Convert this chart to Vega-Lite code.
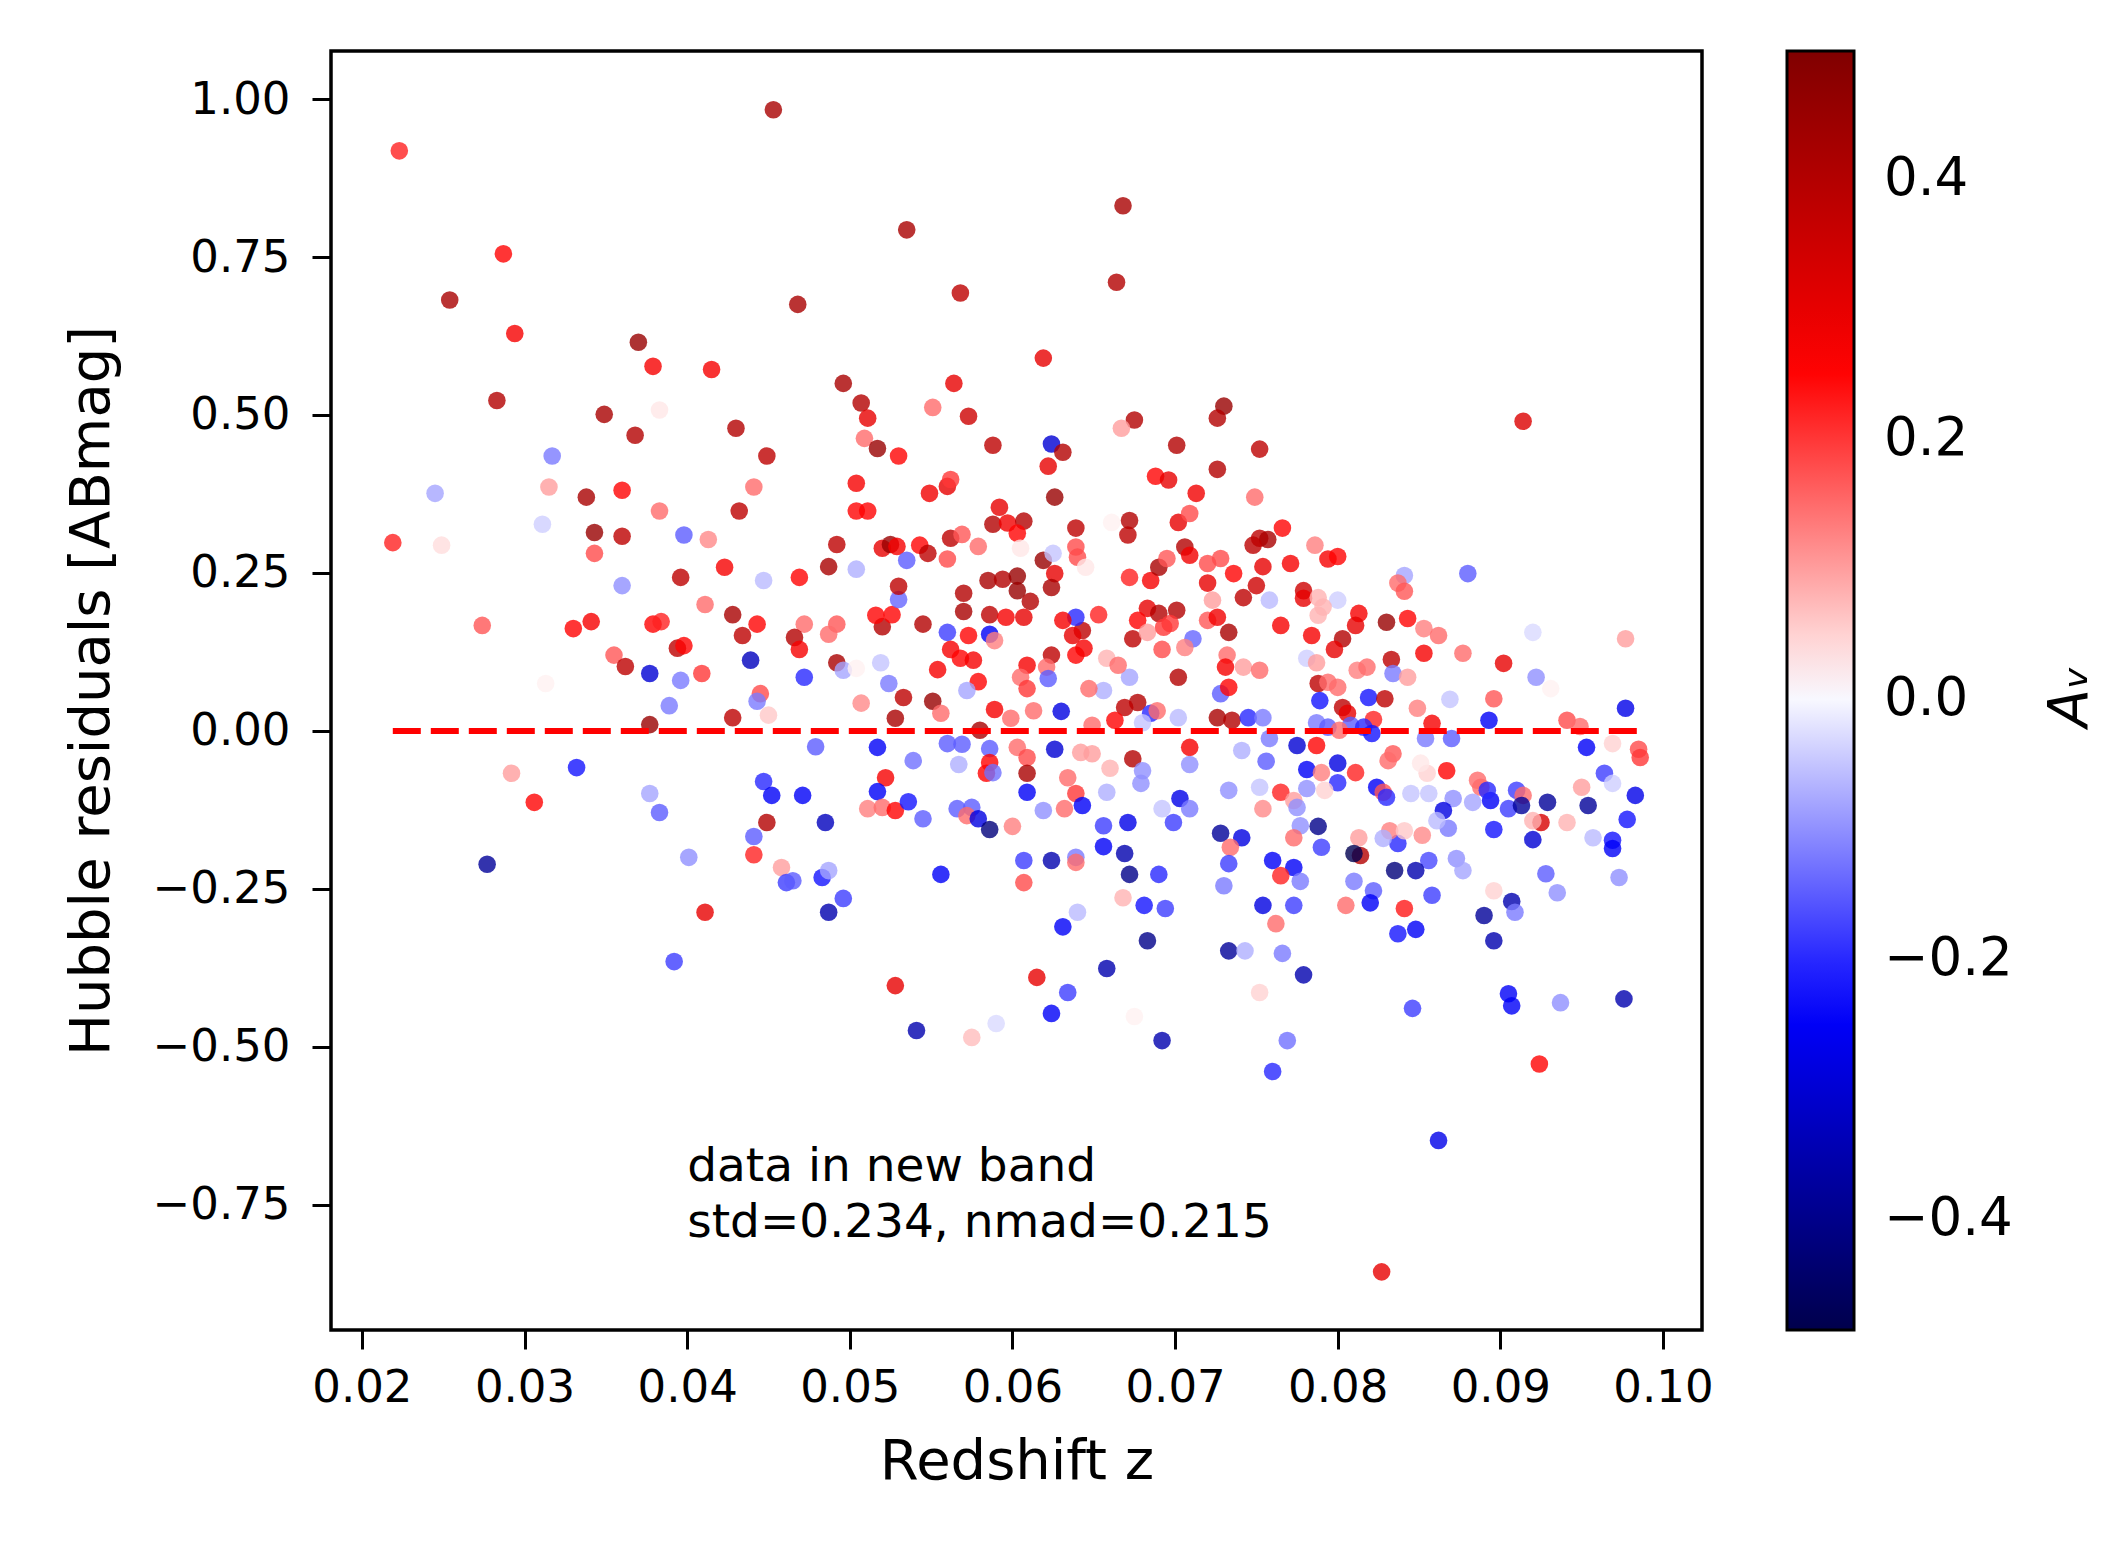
{
  "$schema": "https://vega.github.io/schema/vega-lite/v6.json",
  "width": 1371,
  "height": 1279,
  "autosize": "none",
  "padding": {"left": 331, "top": 51, "right": 418, "bottom": 229},
  "background": "white",
  "config": {
    "font": "DejaVu Sans",
    "view": {"stroke": "black", "strokeWidth": 3.5},
    "axis": {"domain": false, "grid": false, "tickColor": "black", "tickWidth": 3, "tickSize": 19, "labelColor": "black", "titleColor": "black", "labelFontSize": 45, "titleFontSize": 56, "titleFontWeight": "normal", "labelFlush": false, "labelFont": "DejaVu Sans", "titleFont": "DejaVu Sans"}
  },
  "resolve": {"scale": {"y": "independent"}},
  "datasets": {
    "points": [
      {"z":0.0223,"r":0.918,"av":0.22},{"z":0.0453,"r":0.983,"av":0.42},{"z":0.0287,"r":0.755,"av":0.25},{"z":0.0254,"r":0.682,"av":0.42},{"z":0.0535,"r":0.793,"av":0.42},{"z":0.0668,"r":0.831,"av":0.42},{"z":0.0664,"r":0.71,"av":0.4},{"z":0.0468,"r":0.675,"av":0.42},{"z":0.0568,"r":0.693,"av":0.38},
      {"z":0.0294,"r":0.629,"av":0.27},{"z":0.037,"r":0.615,"av":0.45},{"z":0.0379,"r":0.577,"av":0.27},{"z":0.0415,"r":0.572,"av":0.27},{"z":0.0283,"r":0.523,"av":0.4},{"z":0.0349,"r":0.501,"av":0.42},{"z":0.0383,"r":0.508,"av":0.03},{"z":0.0368,"r":0.468,"av":0.4},{"z":0.043,"r":0.479,"av":0.4},{"z":0.0449,"r":0.435,"av":0.38},{"z":0.0317,"r":0.435,"av":-0.12},{"z":0.0245,"r":0.376,"av":-0.08},{"z":0.0315,"r":0.386,"av":0.1},{"z":0.0338,"r":0.37,"av":0.42},{"z":0.036,"r":0.381,"av":0.25},{"z":0.0383,"r":0.348,"av":0.15},{"z":0.0441,"r":0.386,"av":0.15},{"z":0.0432,"r":0.348,"av":0.38},{"z":0.0311,"r":0.327,"av":-0.04},{"z":0.0219,"r":0.298,"av":0.22},{"z":0.0249,"r":0.294,"av":0.04},{"z":0.0343,"r":0.314,"av":0.45},{"z":0.036,"r":0.308,"av":0.38},{"z":0.0343,"r":0.281,"av":0.18},{"z":0.0398,"r":0.31,"av":-0.15},{"z":0.0413,"r":0.303,"av":0.12},{"z":0.0423,"r":0.259,"av":0.27},{"z":0.0396,"r":0.243,"av":0.38},{"z":0.0447,"r":0.238,"av":-0.06},{"z":0.036,"r":0.23,"av":-0.1},{"z":0.0411,"r":0.2,"av":0.15},{"z":0.0428,"r":0.184,"av":0.42},{"z":0.0443,"r":0.169,"av":0.25},{"z":0.0434,"r":0.151,"av":0.38},{"z":0.0274,"r":0.167,"av":0.17},{"z":0.033,"r":0.162,"av":0.25},{"z":0.0341,"r":0.173,"av":0.27},{"z":0.0379,"r":0.169,"av":0.25},{"z":0.0384,"r":0.173,"av":0.22},{"z":0.0394,"r":0.131,"av":0.38},{"z":0.0398,"r":0.135,"av":0.25},{"z":0.0355,"r":0.12,"av":0.17},{"z":0.0362,"r":0.102,"av":0.38},{"z":0.0377,"r":0.091,"av":-0.3},{"z":0.0396,"r":0.08,"av":-0.12},{"z":0.0409,"r":0.091,"av":0.2},{"z":0.0439,"r":0.112,"av":-0.33},{"z":0.0445,"r":0.059,"av":0.18},{"z":0.0443,"r":0.047,"av":-0.12},{"z":0.045,"r":0.025,"av":0.06},{"z":0.0389,"r":0.04,"av":-0.12},{"z":0.0313,"r":0.075,"av":0.02},{"z":0.0377,"r":0.01,"av":0.45},{"z":0.0428,"r":0.021,"av":0.38},
      {"z":0.0619,"r":0.59,"av":0.3},{"z":0.0496,"r":0.55,"av":0.42},{"z":0.0507,"r":0.519,"av":0.4},{"z":0.0511,"r":0.495,"av":0.3},{"z":0.0509,"r":0.463,"av":0.15},{"z":0.0517,"r":0.447,"av":0.45},{"z":0.053,"r":0.435,"av":0.25},{"z":0.0564,"r":0.55,"av":0.3},{"z":0.0551,"r":0.512,"av":0.15},{"z":0.0573,"r":0.498,"av":0.35},{"z":0.0588,"r":0.452,"av":0.38},{"z":0.0624,"r":0.454,"av":-0.3},{"z":0.0631,"r":0.441,"av":0.4},{"z":0.0622,"r":0.419,"av":0.3},{"z":0.0626,"r":0.37,"av":0.45},{"z":0.0675,"r":0.492,"av":0.4},{"z":0.0667,"r":0.479,"av":0.1},{"z":0.073,"r":0.514,"av":0.45},{"z":0.0726,"r":0.495,"av":0.4},{"z":0.0701,"r":0.452,"av":0.4},{"z":0.0726,"r":0.414,"av":0.4},{"z":0.0688,"r":0.403,"av":0.25},{"z":0.0696,"r":0.397,"av":0.3},{"z":0.0713,"r":0.376,"av":0.28},{"z":0.0504,"r":0.392,"av":0.27},{"z":0.0504,"r":0.348,"av":0.25},{"z":0.0511,"r":0.348,"av":0.25},{"z":0.0549,"r":0.376,"av":0.28},{"z":0.056,"r":0.387,"av":0.3},{"z":0.0562,"r":0.398,"av":0.2},{"z":0.0592,"r":0.354,"av":0.3},{"z":0.0588,"r":0.327,"av":0.4},{"z":0.0597,"r":0.329,"av":0.28},{"z":0.0607,"r":0.332,"av":0.4},{"z":0.0603,"r":0.313,"av":0.25},{"z":0.0639,"r":0.321,"av":0.38},{"z":0.0672,"r":0.333,"av":0.4},{"z":0.0671,"r":0.31,"av":0.38},{"z":0.0661,"r":0.33,"av":0.02},{"z":0.0702,"r":0.33,"av":0.3},{"z":0.0709,"r":0.344,"av":0.18},{"z":0.0492,"r":0.295,"av":0.38},{"z":0.0487,"r":0.26,"av":0.42},{"z":0.0469,"r":0.243,"av":0.25},{"z":0.0504,"r":0.256,"av":-0.07},{"z":0.052,"r":0.289,"av":0.3},{"z":0.0525,"r":0.295,"av":0.45},{"z":0.0529,"r":0.292,"av":0.27},{"z":0.0535,"r":0.27,"av":-0.15},{"z":0.0543,"r":0.294,"av":0.25},{"z":0.0548,"r":0.281,"av":0.38},{"z":0.0562,"r":0.305,"av":0.38},{"z":0.0569,"r":0.311,"av":0.17},{"z":0.056,"r":0.272,"av":0.18},{"z":0.0579,"r":0.292,"av":0.15},{"z":0.0605,"r":0.289,"av":0.03},{"z":0.0619,"r":0.27,"av":0.45},{"z":0.0626,"r":0.249,"av":0.3},{"z":0.0624,"r":0.227,"av":0.42},{"z":0.0625,"r":0.281,"av":-0.05},{"z":0.0639,"r":0.291,"av":0.18},{"z":0.064,"r":0.275,"av":0.18},{"z":0.0645,"r":0.259,"av":0.03},{"z":0.0585,"r":0.238,"av":0.42},{"z":0.0594,"r":0.24,"av":0.4},{"z":0.0603,"r":0.245,"av":0.45},{"z":0.0603,"r":0.222,"av":0.45},{"z":0.0611,"r":0.205,"av":0.4},{"z":0.057,"r":0.218,"av":0.4},{"z":0.057,"r":0.189,"av":0.42},{"z":0.0586,"r":0.184,"av":0.38},{"z":0.0596,"r":0.18,"av":0.27},{"z":0.0607,"r":0.18,"av":0.3},{"z":0.056,"r":0.156,"av":-0.18},{"z":0.0573,"r":0.151,"av":0.25},{"z":0.0586,"r":0.153,"av":-0.25},{"z":0.0589,"r":0.143,"av":0.13},{"z":0.0545,"r":0.169,"av":0.4},{"z":0.052,"r":0.165,"av":0.4},{"z":0.0516,"r":0.183,"av":0.25},{"z":0.0526,"r":0.184,"av":0.25},{"z":0.053,"r":0.208,"av":-0.14},{"z":0.053,"r":0.229,"av":0.38},{"z":0.0472,"r":0.169,"av":0.15},{"z":0.0492,"r":0.169,"av":0.17},{"z":0.0487,"r":0.153,"av":0.15},{"z":0.0466,"r":0.148,"av":0.4},{"z":0.0469,"r":0.129,"av":0.27},{"z":0.0562,"r":0.129,"av":0.27},{"z":0.0568,"r":0.115,"av":0.25},{"z":0.0576,"r":0.112,"av":0.27},{"z":0.0492,"r":0.108,"av":0.42},{"z":0.0496,"r":0.096,"av":-0.08},{"z":0.0472,"r":0.085,"av":-0.2},{"z":0.0504,"r":0.099,"av":0.02},{"z":0.0519,"r":0.108,"av":-0.05},{"z":0.0524,"r":0.075,"av":-0.12},{"z":0.0554,"r":0.097,"av":0.27},{"z":0.0579,"r":0.078,"av":0.25},{"z":0.0572,"r":0.064,"av":-0.08},{"z":0.0533,"r":0.053,"av":0.38},{"z":0.0551,"r":0.047,"av":0.45},{"z":0.0507,"r":0.044,"av":0.12},{"z":0.0528,"r":0.02,"av":0.42},{"z":0.0556,"r":0.028,"av":0.15},{"z":0.0589,"r":0.034,"av":0.27},{"z":0.058,"r":0.001,"av":0.42},{"z":0.0599,"r":0.02,"av":0.15},{"z":0.0609,"r":0.104,"av":0.27},{"z":0.0605,"r":0.085,"av":0.15},{"z":0.0609,"r":0.067,"av":0.2},{"z":0.0624,"r":0.12,"av":0.38},{"z":0.0621,"r":0.101,"av":0.15},{"z":0.0622,"r":0.083,"av":-0.15},{"z":0.0613,"r":0.032,"av":0.15},{"z":0.063,"r":0.031,"av":-0.28},{"z":0.0639,"r":0.12,"av":0.25},{"z":0.0644,"r":0.131,"av":0.27},{"z":0.0643,"r":0.159,"av":0.38},{"z":0.0637,"r":0.151,"av":0.3},{"z":0.0639,"r":0.18,"av":-0.2},{"z":0.0631,"r":0.175,"av":0.27},{"z":0.0653,"r":0.184,"av":0.22},{"z":0.0672,"r":0.243,"av":0.22},{"z":0.0685,"r":0.238,"av":0.27},{"z":0.069,"r":0.259,"av":0.42},{"z":0.0695,"r":0.273,"av":0.17},{"z":0.0706,"r":0.291,"av":0.4},{"z":0.0709,"r":0.278,"av":0.28},{"z":0.072,"r":0.265,"av":0.18},{"z":0.0728,"r":0.273,"av":0.18},{"z":0.0736,"r":0.249,"av":0.25},{"z":0.072,"r":0.234,"av":0.3},{"z":0.0723,"r":0.207,"av":0.1},{"z":0.0742,"r":0.211,"av":0.38},{"z":0.0683,"r":0.194,"av":0.3},{"z":0.069,"r":0.186,"av":0.4},{"z":0.0701,"r":0.191,"av":0.4},{"z":0.0677,"r":0.175,"av":0.25},{"z":0.0674,"r":0.146,"av":0.38},{"z":0.0683,"r":0.156,"av":0.1},{"z":0.0693,"r":0.164,"av":0.2},{"z":0.0697,"r":0.17,"av":0.2},{"z":0.072,"r":0.175,"av":0.17},{"z":0.0726,"r":0.18,"av":0.28},{"z":0.0733,"r":0.156,"av":0.42},{"z":0.0711,"r":0.146,"av":-0.14},{"z":0.0692,"r":0.129,"av":0.18},{"z":0.0706,"r":0.132,"av":0.13},{"z":0.0732,"r":0.12,"av":0.15},{"z":0.0731,"r":0.101,"av":0.27},{"z":0.0742,"r":0.101,"av":0.1},{"z":0.0702,"r":0.085,"av":0.4},{"z":0.0672,"r":0.085,"av":-0.08},{"z":0.0658,"r":0.115,"av":0.08},{"z":0.0665,"r":0.104,"av":0.15},{"z":0.0656,"r":0.064,"av":-0.07},{"z":0.0647,"r":0.067,"av":0.15},{"z":0.0677,"r":0.045,"av":0.4},{"z":0.0685,"r":0.028,"av":-0.2},{"z":0.0689,"r":0.032,"av":0.15},{"z":0.0702,"r":0.021,"av":-0.06},{"z":0.0669,"r":0.037,"av":0.38},{"z":0.0728,"r":0.059,"av":-0.15},{"z":0.0733,"r":0.069,"av":0.25},{"z":0.0726,"r":0.021,"av":0.42},{"z":0.0735,"r":0.017,"av":0.4},{"z":0.0745,"r":0.021,"av":-0.2},{"z":0.0663,"r":0.017,"av":0.25},{"z":0.0649,"r":0.009,"av":0.15},{"z":0.068,"r":0.013,"av":-0.05},
      {"z":0.0914,"r":0.49,"av":0.32},{"z":0.0752,"r":0.446,"av":0.38},{"z":0.0749,"r":0.37,"av":0.15},{"z":0.0766,"r":0.321,"av":0.25},{"z":0.0752,"r":0.305,"av":0.38},{"z":0.0757,"r":0.303,"av":0.42},{"z":0.0748,"r":0.294,"av":0.38},{"z":0.0786,"r":0.294,"av":0.13},{"z":0.0794,"r":0.272,"av":0.27},{"z":0.08,"r":0.276,"av":0.25},{"z":0.0754,"r":0.26,"av":0.3},{"z":0.0771,"r":0.265,"av":0.27},{"z":0.075,"r":0.23,"av":0.35},{"z":0.0779,"r":0.222,"av":0.35},{"z":0.0779,"r":0.21,"av":0.3},{"z":0.0758,"r":0.207,"av":-0.06},{"z":0.08,"r":0.207,"av":-0.04},{"z":0.0788,"r":0.211,"av":0.08},{"z":0.0791,"r":0.196,"av":0.08},{"z":0.0788,"r":0.183,"av":0.08},{"z":0.0841,"r":0.246,"av":-0.08},{"z":0.0837,"r":0.234,"av":0.15},{"z":0.0841,"r":0.221,"av":0.17},{"z":0.088,"r":0.249,"av":-0.15},{"z":0.0765,"r":0.167,"av":0.27},{"z":0.0784,"r":0.151,"av":0.27},{"z":0.0813,"r":0.186,"av":0.27},{"z":0.0811,"r":0.167,"av":0.3},{"z":0.0803,"r":0.146,"av":0.4},{"z":0.0798,"r":0.129,"av":0.3},{"z":0.083,"r":0.172,"av":0.45},{"z":0.0843,"r":0.178,"av":0.25},{"z":0.0853,"r":0.162,"av":0.13},{"z":0.0862,"r":0.151,"av":0.15},{"z":0.0853,"r":0.123,"av":0.27},{"z":0.0877,"r":0.123,"av":0.15},{"z":0.0833,"r":0.113,"av":0.38},{"z":0.0902,"r":0.107,"av":0.3},{"z":0.092,"r":0.156,"av":-0.03},{"z":0.0977,"r":0.146,"av":0.1},{"z":0.0781,"r":0.115,"av":-0.04},{"z":0.0787,"r":0.108,"av":0.1},{"z":0.0752,"r":0.096,"av":0.15},{"z":0.0812,"r":0.096,"av":0.13},{"z":0.0818,"r":0.101,"av":0.15},{"z":0.0834,"r":0.091,"av":-0.12},{"z":0.0843,"r":0.085,"av":0.1},{"z":0.0922,"r":0.085,"av":-0.1},{"z":0.0931,"r":0.067,"av":0.02},{"z":0.0788,"r":0.075,"av":0.38},{"z":0.0794,"r":0.077,"av":0.15},{"z":0.08,"r":0.069,"av":0.15},{"z":0.0819,"r":0.053,"av":-0.22},{"z":0.0829,"r":0.051,"av":0.38},{"z":0.0849,"r":0.036,"av":0.13},{"z":0.0869,"r":0.05,"av":-0.05},{"z":0.0896,"r":0.051,"av":0.17},{"z":0.0893,"r":0.017,"av":-0.25},{"z":0.0977,"r":0.036,"av":-0.27},{"z":0.0789,"r":0.048,"av":-0.22},{"z":0.0803,"r":0.037,"av":0.38},{"z":0.0806,"r":0.028,"av":0.3},{"z":0.0822,"r":0.018,"av":0.22},{"z":0.0858,"r":0.012,"av":0.27},{"z":0.0941,"r":0.017,"av":0.18},{"z":0.0949,"r":0.007,"av":0.15},{"z":0.0754,"r":0.021,"av":-0.12},{"z":0.0787,"r":0.013,"av":-0.12},{"z":0.0794,"r":0.006,"av":-0.15},{"z":0.0808,"r":0.009,"av":-0.15},{"z":0.0816,"r":0.006,"av":-0.2},{"z":0.0821,"r":-0.004,"av":-0.22},{"z":0.0854,"r":-0.012,"av":-0.12},{"z":0.087,"r":-0.012,"av":-0.15},{"z":0.0758,"r":-0.012,"av":-0.12},{"z":0.0775,"r":-0.023,"av":-0.3},{"z":0.0953,"r":-0.026,"av":-0.25},{"z":0.0969,"r":-0.02,"av":0.05},{"z":0.0985,"r":-0.029,"av":0.18},{"z":0.0801,"r":0.001,"av":0.15},
      {"z":0.0292,"r":-0.067,"av":0.1},{"z":0.0306,"r":-0.113,"av":0.25},{"z":0.0332,"r":-0.058,"av":-0.22},{"z":0.0377,"r":-0.099,"av":-0.08},{"z":0.0383,"r":-0.129,"av":-0.15},{"z":0.0277,"r":-0.211,"av":-0.38},{"z":0.0401,"r":-0.2,"av":-0.1},{"z":0.0411,"r":-0.287,"av":0.3},{"z":0.0392,"r":-0.365,"av":-0.18},{"z":0.0447,"r":-0.08,"av":-0.2},{"z":0.0452,"r":-0.102,"av":-0.25},{"z":0.0449,"r":-0.145,"av":0.4},{"z":0.0441,"r":-0.167,"av":-0.15},{"z":0.0441,"r":-0.196,"av":0.22},{"z":0.0458,"r":-0.216,"av":0.1},{"z":0.0461,"r":-0.24,"av":-0.18},
      {"z":0.0479,"r":-0.025,"av":-0.15},{"z":0.0517,"r":-0.026,"av":-0.25},{"z":0.056,"r":-0.02,"av":-0.15},{"z":0.0569,"r":-0.021,"av":-0.15},{"z":0.0586,"r":-0.028,"av":-0.15},{"z":0.0626,"r":-0.029,"av":-0.3},{"z":0.0603,"r":-0.026,"av":0.15},{"z":0.0609,"r":-0.042,"av":0.18},{"z":0.0642,"r":-0.034,"av":0.1},{"z":0.0649,"r":-0.036,"av":0.1},{"z":0.066,"r":-0.059,"av":0.08},{"z":0.0674,"r":-0.044,"av":0.4},{"z":0.068,"r":-0.063,"av":-0.1},{"z":0.0679,"r":-0.083,"av":-0.1},{"z":0.0709,"r":-0.026,"av":0.27},{"z":0.0709,"r":-0.053,"av":-0.1},{"z":0.0741,"r":-0.031,"av":-0.07},{"z":0.0539,"r":-0.047,"av":-0.13},{"z":0.0567,"r":-0.053,"av":-0.07},{"z":0.0586,"r":-0.05,"av":0.25},{"z":0.0584,"r":-0.067,"av":0.25},{"z":0.0588,"r":-0.066,"av":-0.13},{"z":0.0609,"r":-0.067,"av":0.42},{"z":0.0609,"r":-0.097,"av":-0.25},{"z":0.0522,"r":-0.074,"av":0.27},{"z":0.0471,"r":-0.102,"av":-0.25},{"z":0.0517,"r":-0.096,"av":-0.25},{"z":0.0511,"r":-0.123,"av":0.13},{"z":0.052,"r":-0.121,"av":0.15},{"z":0.0528,"r":-0.126,"av":0.25},{"z":0.0536,"r":-0.112,"av":-0.22},{"z":0.0545,"r":-0.139,"av":-0.15},{"z":0.0485,"r":-0.145,"av":-0.33},{"z":0.0566,"r":-0.123,"av":-0.15},{"z":0.0575,"r":-0.121,"av":-0.15},{"z":0.0572,"r":-0.134,"av":0.15},{"z":0.0579,"r":-0.139,"av":-0.28},{"z":0.0586,"r":-0.156,"av":-0.42},{"z":0.06,"r":-0.151,"av":0.13},{"z":0.0619,"r":-0.126,"av":-0.1},{"z":0.0634,"r":-0.074,"av":0.15},{"z":0.0639,"r":-0.099,"av":0.2},{"z":0.0632,"r":-0.123,"av":0.15},{"z":0.0643,"r":-0.118,"av":-0.25},{"z":0.0658,"r":-0.097,"av":-0.07},{"z":0.0656,"r":-0.15,"av":-0.18},{"z":0.0671,"r":-0.145,"av":-0.27},{"z":0.0703,"r":-0.107,"av":-0.27},{"z":0.0709,"r":-0.123,"av":-0.12},{"z":0.0699,"r":-0.145,"av":-0.18},{"z":0.0692,"r":-0.123,"av":-0.05},{"z":0.0733,"r":-0.094,"av":-0.1},{"z":0.0728,"r":-0.162,"av":-0.38},{"z":0.0741,"r":-0.169,"av":-0.28},{"z":0.0734,"r":-0.184,"av":0.15},{"z":0.0733,"r":-0.21,"av":-0.18},{"z":0.073,"r":-0.245,"av":-0.12},{"z":0.0656,"r":-0.183,"av":-0.25},{"z":0.0669,"r":-0.194,"av":-0.35},{"z":0.0672,"r":-0.227,"av":-0.4},{"z":0.069,"r":-0.227,"av":-0.2},{"z":0.0607,"r":-0.205,"av":-0.18},{"z":0.0624,"r":-0.205,"av":-0.35},{"z":0.0639,"r":-0.2,"av":-0.12},{"z":0.0639,"r":-0.208,"av":0.15},{"z":0.0607,"r":-0.24,"av":0.18},{"z":0.0556,"r":-0.227,"av":-0.25},{"z":0.0483,"r":-0.232,"av":-0.22},{"z":0.0487,"r":-0.221,"av":-0.08},{"z":0.0465,"r":-0.237,"av":-0.15},{"z":0.0496,"r":-0.265,"av":-0.18},{"z":0.0487,"r":-0.287,"av":-0.35},{"z":0.0668,"r":-0.264,"av":0.08},{"z":0.0681,"r":-0.276,"av":-0.22},{"z":0.0694,"r":-0.281,"av":-0.18},{"z":0.064,"r":-0.287,"av":-0.06},{"z":0.0631,"r":-0.31,"av":-0.25},{"z":0.0683,"r":-0.332,"av":-0.4},{"z":0.0733,"r":-0.348,"av":-0.38},{"z":0.0743,"r":-0.348,"av":-0.07},{"z":0.0658,"r":-0.376,"av":-0.35},{"z":0.0615,"r":-0.39,"av":0.3},{"z":0.0528,"r":-0.403,"av":0.3},{"z":0.0634,"r":-0.414,"av":-0.18},{"z":0.0624,"r":-0.447,"av":-0.25},{"z":0.0541,"r":-0.474,"av":-0.35},{"z":0.0575,"r":-0.485,"av":0.07},{"z":0.059,"r":-0.463,"av":-0.03},{"z":0.0675,"r":-0.452,"av":0.02},{"z":0.0692,"r":-0.49,"av":-0.35},
      {"z":0.0756,"r":-0.048,"av":-0.15},{"z":0.0787,"r":-0.023,"av":0.25},{"z":0.08,"r":-0.051,"av":-0.28},{"z":0.0811,"r":-0.066,"av":0.22},{"z":0.0781,"r":-0.061,"av":-0.25},{"z":0.079,"r":-0.066,"av":0.13},{"z":0.08,"r":-0.082,"av":-0.2},{"z":0.0781,"r":-0.091,"av":-0.1},{"z":0.0765,"r":-0.097,"av":0.22},{"z":0.0752,"r":-0.089,"av":-0.05},{"z":0.0773,"r":-0.11,"av":0.1},{"z":0.0754,"r":-0.123,"av":0.12},{"z":0.0775,"r":-0.121,"av":-0.1},{"z":0.0792,"r":-0.094,"av":0.05},{"z":0.0824,"r":-0.089,"av":-0.25},{"z":0.0828,"r":-0.097,"av":0.17},{"z":0.083,"r":-0.105,"av":-0.2},{"z":0.0834,"r":-0.036,"av":0.17},{"z":0.0831,"r":-0.047,"av":0.15},{"z":0.0845,"r":-0.099,"av":-0.05},{"z":0.0856,"r":-0.099,"av":-0.05},{"z":0.0867,"r":-0.063,"av":0.25},{"z":0.0855,"r":-0.067,"av":0.05},{"z":0.0851,"r":-0.051,"av":0.03},{"z":0.0871,"r":-0.107,"av":-0.1},{"z":0.0865,"r":-0.126,"av":-0.28},{"z":0.0886,"r":-0.078,"av":0.15},{"z":0.0888,"r":-0.089,"av":0.15},{"z":0.0883,"r":-0.113,"av":-0.08},{"z":0.0894,"r":-0.11,"av":-0.25},{"z":0.0892,"r":-0.094,"av":-0.2},{"z":0.0905,"r":-0.123,"av":-0.18},{"z":0.091,"r":-0.094,"av":-0.18},{"z":0.0914,"r":-0.102,"av":0.15},{"z":0.0913,"r":-0.118,"av":-0.38},{"z":0.0929,"r":-0.113,"av":-0.38},{"z":0.0925,"r":-0.145,"av":0.33},{"z":0.092,"r":-0.142,"av":0.08},{"z":0.0941,"r":-0.145,"av":0.08},{"z":0.095,"r":-0.089,"av":0.1},{"z":0.0954,"r":-0.118,"av":-0.38},{"z":0.0964,"r":-0.067,"av":-0.18},{"z":0.0969,"r":-0.083,"av":-0.04},{"z":0.0983,"r":-0.102,"av":-0.27},{"z":0.0986,"r":-0.042,"av":0.2},{"z":0.0978,"r":-0.14,"av":-0.22},{"z":0.0957,"r":-0.169,"av":-0.06},{"z":0.0969,"r":-0.173,"av":-0.22},{"z":0.0969,"r":-0.186,"av":-0.25},{"z":0.0973,"r":-0.232,"av":-0.1},{"z":0.092,"r":-0.172,"av":-0.3},{"z":0.0928,"r":-0.226,"av":-0.15},{"z":0.0935,"r":-0.256,"av":-0.1},{"z":0.0896,"r":-0.156,"av":-0.22},{"z":0.0868,"r":-0.154,"av":-0.12},{"z":0.0861,"r":-0.142,"av":-0.06},{"z":0.0873,"r":-0.202,"av":-0.1},{"z":0.0877,"r":-0.221,"av":-0.08},{"z":0.0856,"r":-0.205,"av":-0.17},{"z":0.0858,"r":-0.26,"av":-0.18},{"z":0.0848,"r":-0.221,"av":-0.35},{"z":0.0835,"r":-0.221,"av":-0.42},{"z":0.0837,"r":-0.178,"av":-0.2},{"z":0.0832,"r":-0.158,"av":0.13},{"z":0.0828,"r":-0.17,"av":-0.07},{"z":0.0813,"r":-0.169,"av":0.1},{"z":0.0814,"r":-0.197,"av":0.4},{"z":0.081,"r":-0.194,"av":-0.48},{"z":0.0852,"r":-0.165,"av":0.12},{"z":0.0841,"r":-0.158,"av":0.06},{"z":0.0788,"r":-0.151,"av":-0.4},{"z":0.0777,"r":-0.15,"av":-0.1},{"z":0.0773,"r":-0.169,"av":0.15},{"z":0.079,"r":-0.184,"av":-0.18},{"z":0.076,"r":-0.205,"av":-0.25},{"z":0.0773,"r":-0.216,"av":-0.25},{"z":0.0765,"r":-0.229,"av":0.22},{"z":0.0777,"r":-0.238,"av":-0.12},{"z":0.081,"r":-0.238,"av":-0.12},{"z":0.0822,"r":-0.253,"av":-0.15},{"z":0.082,"r":-0.272,"av":-0.25},{"z":0.0805,"r":-0.276,"av":0.15},{"z":0.0841,"r":-0.281,"av":0.23},{"z":0.0837,"r":-0.321,"av":-0.22},{"z":0.0848,"r":-0.314,"av":-0.25},{"z":0.0754,"r":-0.276,"av":-0.28},{"z":0.0773,"r":-0.276,"av":-0.18},{"z":0.0762,"r":-0.305,"av":0.15},{"z":0.0766,"r":-0.352,"av":-0.12},{"z":0.0779,"r":-0.386,"av":-0.35},{"z":0.0752,"r":-0.414,"av":0.05},{"z":0.089,"r":-0.292,"av":-0.38},{"z":0.0907,"r":-0.27,"av":-0.35},{"z":0.0909,"r":-0.287,"av":-0.12},{"z":0.0896,"r":-0.332,"av":-0.35},{"z":0.0896,"r":-0.253,"av":0.05},{"z":0.0905,"r":-0.416,"av":-0.25},{"z":0.0907,"r":-0.435,"av":-0.25},{"z":0.0937,"r":-0.43,"av":-0.1},{"z":0.0976,"r":-0.424,"av":-0.35},{"z":0.0846,"r":-0.439,"av":-0.18},{"z":0.0769,"r":-0.49,"av":-0.13},{"z":0.076,"r":-0.539,"av":-0.2},{"z":0.0924,"r":-0.527,"av":0.25},{"z":0.0862,"r":-0.648,"av":-0.27},{"z":0.0827,"r":-0.856,"av":0.3}
    ],
    "fit": [{"z0": 0.0219, "z1": 0.0985, "r": 0}],
    "note": [{"z": 0.04, "r": -0.712, "label": "data in new band\nstd=0.234, nmad=0.215"}]
  },
  "layer": [
    {
      "data": {"name": "points"},
      "mark": {"type": "circle", "size": 310, "fillOpacity": 0.8},
      "encoding": {
        "x": {"field": "z", "type": "quantitative", "scale": {"domain": [0.0181, 0.1024], "nice": false, "zero": false},
              "axis": {"values": [0.02,0.03,0.04,0.05,0.06,0.07,0.08,0.09,0.1], "format": ".2f", "title": "Redshift z", "labelPadding": 16, "titlePadding": 24}},
        "y": {"field": "r", "type": "quantitative", "scale": {"domain": [-0.948, 1.076], "nice": false, "zero": false},
              "axis": {"orient": "left", "values": [-0.75,-0.5,-0.25,0,0.25,0.5,0.75,1.0], "format": ".2f", "title": "Hubble residuals [ABmag]", "labelPadding": 22, "titlePadding": 32}},
        "color": {"field": "av", "type": "quantitative",
                  "scale": {"domain": [-0.485, -0.239, 0.0068, 0.2527, 0.4985], "range": ["#00004c", "#0000ff", "#ffffff", "#ff0000", "#800000"], "interpolate": "rgb"},
                  "legend": {"orient": "none", "legendX": 1456, "legendY": 0, "direction": "vertical", "title": null,
                             "values": [-0.4,-0.2,0,0.2,0.4], "format": ".1f", "gradientLength": 1279, "gradientThickness": 67, "padding": 0,
                             "gradientStrokeColor": "black", "gradientStrokeWidth": 3, "labelFontSize": 53, "labelOffset": 30, "labelColor": "black", "labelFont": "DejaVu Sans"}}
      }
    },
    {
      "data": {"name": "fit"},
      "mark": {"type": "rule", "color": "#ff0000", "strokeWidth": 6, "strokeDash": [28, 10]},
      "encoding": {
        "x": {"field": "z0", "type": "quantitative"},
        "x2": {"field": "z1"},
        "y": {"field": "r", "type": "quantitative", "scale": {"domain": [-0.948, 1.076], "nice": false, "zero": false},
              "axis": {"orient": "right", "domain": false, "ticks": false, "labels": false, "grid": false, "title": "Aᵥ", "titleAngle": 270, "titleFontStyle": "italic", "titleFontSize": 56, "titleX": 367, "titleY": 645, "titleAlign": "center", "titleBaseline": "middle"}}
      }
    },
    {
      "data": {"name": "note"},
      "mark": {"type": "text", "align": "left", "baseline": "alphabetic", "fontSize": 47, "lineHeight": 56, "lineBreak": "\n", "color": "black", "font": "DejaVu Sans"},
      "encoding": {
        "x": {"field": "z", "type": "quantitative"},
        "y": {"field": "r", "type": "quantitative", "scale": {"domain": [-0.948, 1.076], "nice": false, "zero": false}, "axis": null},
        "text": {"field": "label"}
      }
    }
  ]
}
